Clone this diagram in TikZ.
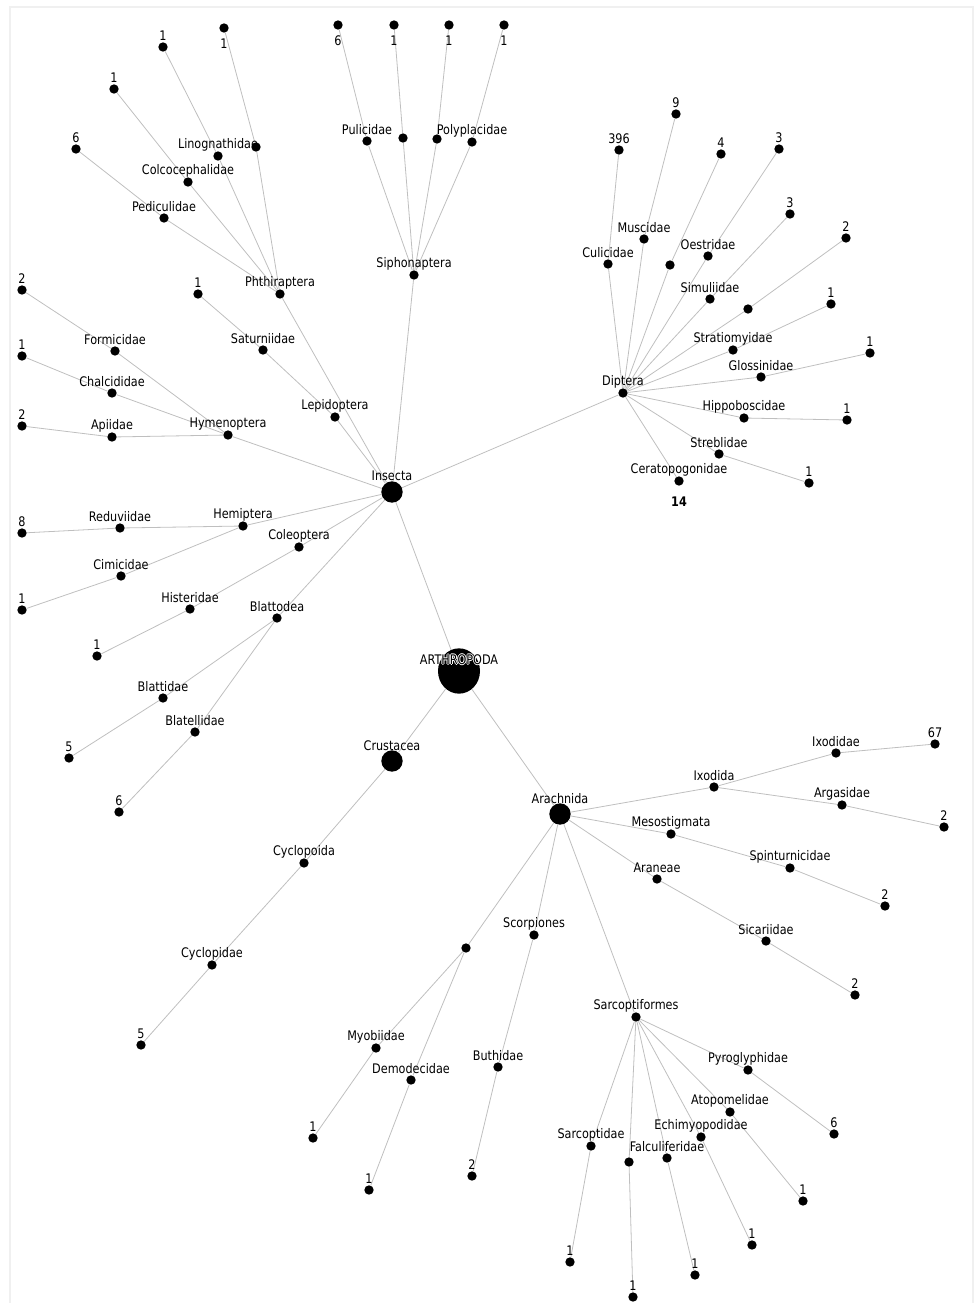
\documentclass[tikz,border=0pt]{standalone}
\usepackage{fontspec}
\newfontfamily\lblfont[FakeStretch=0.85]{DejaVu Sans}
\usetikzlibrary{backgrounds}
\newcommand{\whalo}[1]{\makebox[0pt][l]{\textcolor{white}{\hspace*{-0.7pt}#1}}\makebox[0pt][l]{\textcolor{white}{\hspace*{0.7pt}#1}}\makebox[0pt][l]{\textcolor{white}{\raisebox{0.7pt}{#1}}}\makebox[0pt][l]{\textcolor{white}{\raisebox{-0.7pt}{#1}}}#1}
\tikzset{
  x=0.75pt, y=-0.75pt,
  dot/.style={circle, fill=black, inner sep=0pt, minimum size=7pt},
  hub/.style={circle, fill=black, inner sep=0pt, minimum size=16pt},
  root/.style={ellipse, fill=black, inner sep=0pt, minimum width=31.5pt, minimum height=34pt},
  lbl/.style={font=\lblfont\fontsize{9.9}{11}\selectfont, text=black, inner sep=0pt, anchor=center, yshift=8.5pt},
  lblh/.style={lbl, yshift=3.3pt},
  lblb/.style={lbl, yshift=-20.5pt},
  lab/.style={label={[lbl]center:#1}},
  labh/.style={label={[lblh]center:#1}},
  labb/.style={label={[lblb]center:#1}},
  conn/.style={draw=gray!50, line width=0.6pt},
  frame/.style={draw=gray!12, line width=1.2pt}
}
\usetikzlibrary{shapes.geometric}
\begin{document}
\begin{tikzpicture}
\useasboundingbox (0,0) rectangle (974,1303);
\draw[frame] (10,1303) -- (10,7) -- (973,7) -- (973,1303);

% root and classes
\node[root,lab={\whalo{ARTHROPODA}}] (A) at (459,671) {};
\node[hub,labh=Insecta] (I) at (392,492) {};
\node[hub,labh=Crustacea] (C) at (392,761) {};
\node[hub,labh=Arachnida] (R) at (560,814) {};

% Siphonaptera
\node[dot,lab=Siphonaptera] (sip) at (414,275) {};
\node[dot,lab=Pulicidae] (pul) at (367,141) {};
\node[dot] (sx2) at (403,138) {};
\node[dot] (sx3) at (437,139) {};
\node[dot,lab=Polyplacidae] (pol) at (472,142) {};
\node[dot,labb=6] (s1) at (338,25) {};
\node[dot,labb=1] (s2) at (394,25) {};
\node[dot,labb=1] (s3) at (449,25) {};
\node[dot,labb=1] (s4) at (504,25) {};

% Phthiraptera
\node[dot,lab=Phthiraptera] (phi) at (280,294) {};
\node[dot,lab=Pediculidae] (ped) at (164,218) {};
\node[dot,lab=Colcocephalidae] (clc) at (188,182) {};
\node[dot] (px4) at (256,147) {};
\node[dot,lab=Linognathidae] (lin) at (218,156) {};
\node[dot,lab=6] (p1) at (76,149) {};
\node[dot,lab=1] (p2) at (114,89) {};
\node[dot,lab=1] (p3) at (163,47) {};
\node[dot,labb=1] (p4) at (224,28) {};

% Lepidoptera
\node[dot,lab=Lepidoptera] (lep) at (335,417) {};
\node[dot,lab=Saturniidae] (sat) at (263,350) {};
\node[dot,lab=1] (l1) at (198,294) {};

% Hymenoptera
\node[dot,lab=Hymenoptera] (hym) at (228,435) {};
\node[dot,lab=Formicidae] (frm) at (115,351) {};
\node[dot,lab=Chalcididae] (cha) at (112,393) {};
\node[dot,lab=Apiidae] (api) at (112,437) {};
\node[dot,lab=2] (h1) at (22,290) {};
\node[dot,lab=1] (h2) at (22,356) {};
\node[dot,lab=2] (h3) at (22,426) {};

% Hemiptera
\node[dot,lab=Hemiptera] (hem) at (243,526) {};
\node[dot,lab=Reduviidae] (red) at (120,528) {};
\node[dot,lab=Cimicidae] (cim) at (121,576) {};
\node[dot,lab=8] (e1) at (22,533) {};
\node[dot,lab=1] (e2) at (22,610) {};

% Coleoptera
\node[dot,lab=Coleoptera] (coe) at (299,547) {};
\node[dot,lab=Histeridae] (his) at (190,609) {};
\node[dot,lab=1] (c1) at (97,656) {};

% Blattodea
\node[dot,lab=Blattodea] (bla) at (277,618) {};
\node[dot,lab=Blattidae] (btd) at (163,698) {};
\node[dot,lab=Blatellidae] (btl) at (195,732) {};
\node[dot,lab=5] (b1) at (69,758) {};
\node[dot,lab=6] (b2) at (119,812) {};

% Diptera
\node[dot,lab=Diptera] (dip) at (623,393) {};
\node[dot,lab=Culicidae] (cul) at (608,264) {};
\node[dot,lab=Muscidae] (mus) at (644,239) {};
\node[dot] (dx3) at (670,265) {};
\node[dot,lab=Oestridae] (oes) at (708,256) {};
\node[dot,lab=Simuliidae] (sim) at (710,299) {};
\node[dot] (dx6) at (748,309) {};
\node[dot,lab=Stratiomyidae] (str) at (733,350) {};
\node[dot,lab=Glossinidae] (glo) at (761,377) {};
\node[dot,lab=Hippoboscidae] (hip) at (744,418) {};
\node[dot,lab=Streblidae] (stb) at (719,454) {};
\node[dot,lab=Ceratopogonidae,label={[lbl,font=\lblfont\bfseries\fontsize{9.9}{11}\selectfont,yshift=-24.3pt]center:14}] (cer) at (679,481) {};
\node[dot,lab=396] (d1) at (619,150) {};
\node[dot,lab=9] (d2) at (676,114) {};
\node[dot,lab=4] (d3) at (721,154) {};
\node[dot,lab=3] (d4) at (779,149) {};
\node[dot,lab=3] (d5) at (790,214) {};
\node[dot,lab=2] (d6) at (846,238) {};
\node[dot,lab=1] (d7) at (831,304) {};
\node[dot,lab=1] (d8) at (870,353) {};
\node[dot,lab=1] (d9) at (847,420) {};
\node[dot,lab=1] (d10) at (809,483) {};

% Crustacea
\node[dot,lab=Cyclopoida] (cyo) at (304,863) {};
\node[dot,lab=Cyclopidae] (cyi) at (212,965) {};
\node[dot,lab=5] (y1) at (141,1045) {};

% Arachnida
\node[dot,lab=Ixodida] (ixa) at (714,787) {};
\node[dot,lab=Ixodidae] (ixe) at (836,753) {};
\node[dot,lab=Argasidae] (arg) at (842,805) {};
\node[dot,lab=67] (a1) at (935,744) {};
\node[dot,lab=2] (a2) at (944,827) {};
\node[dot,lab=Mesostigmata] (mes) at (671,834) {};
\node[dot,lab=Spinturnicidae] (spi) at (790,868) {};
\node[dot,lab=2] (a3) at (885,906) {};
\node[dot,lab=Araneae] (ara) at (657,879) {};
\node[dot,lab=Sicariidae] (sic) at (766,941) {};
\node[dot,lab=2] (a4) at (855,995) {};
\node[dot] (rx4) at (466,948) {};
\node[dot,lab=Myobiidae] (myo) at (376,1048) {};
\node[dot,lab=Demodecidae] (dem) at (411,1080) {};
\node[dot,lab=1] (a5) at (313,1138) {};
\node[dot,lab=1] (a6) at (369,1190) {};
\node[dot,lab=Scorpiones] (sco) at (534,935) {};
\node[dot,lab=Buthidae] (but) at (498,1067) {};
\node[dot,lab=2] (a7) at (472,1176) {};
\node[dot,lab=Sarcoptiformes] (sar) at (636,1017) {};
\node[dot,lab=Sarcoptidae] (sct) at (591,1146) {};
\node[dot] (sx) at (629,1162) {};
\node[dot,lab=Echimyopodidae] (ech) at (701,1137) {};
\node[dot,lab=Falculiferidae] (fal) at (667,1158) {};
\node[dot,lab=Atopomelidae] (ato) at (730,1112) {};
\node[dot,lab=Pyroglyphidae] (pyr) at (748,1070) {};
\node[dot,lab=1] (m1) at (570,1262) {};
\node[dot,lab=1] (m2) at (633,1297) {};
\node[dot,lab=1] (m3) at (695,1275) {};
\node[dot,lab=1] (m4) at (752,1245) {};
\node[dot,lab=1] (m5) at (803,1201) {};
\node[dot,lab=6] (m6) at (834,1134) {};

\begin{pgfonlayer}{background}
\foreach \a/\b in {A/I, A/C, A/R,
  I/sip, sip/pul, sip/sx2, sip/sx3, sip/pol, pul/s1, sx2/s2, sx3/s3, pol/s4,
  I/phi, phi/ped, phi/clc, phi/lin, phi/px4, ped/p1, clc/p2, lin/p3, px4/p4,
  I/lep, lep/sat, sat/l1,
  I/hym, hym/frm, hym/cha, hym/api, frm/h1, cha/h2, api/h3,
  I/hem, hem/red, hem/cim, red/e1, cim/e2,
  I/coe, coe/his, his/c1,
  I/bla, bla/btd, bla/btl, btd/b1, btl/b2,
  I/dip, dip/cul, dip/mus, dip/dx3, dip/oes, dip/sim, dip/dx6, dip/str, dip/glo, dip/hip, dip/stb, dip/cer,
  cul/d1, mus/d2, dx3/d3, oes/d4, sim/d5, dx6/d6, str/d7, glo/d8, hip/d9, stb/d10,
  C/cyo, cyo/cyi, cyi/y1,
  R/ixa, ixa/ixe, ixa/arg, ixe/a1, arg/a2,
  R/mes, mes/spi, spi/a3,
  R/ara, ara/sic, sic/a4,
  R/rx4, rx4/myo, rx4/dem, myo/a5, dem/a6,
  R/sco, sco/but, but/a7,
  R/sar, sar/sct, sar/sx, sar/fal, sar/ech, sar/ato, sar/pyr,
  sct/m1, sx/m2, fal/m3, ech/m4, ato/m5, pyr/m6}
  \draw[conn] (\a) -- (\b);
\end{pgfonlayer}
\end{tikzpicture}
\end{document}
